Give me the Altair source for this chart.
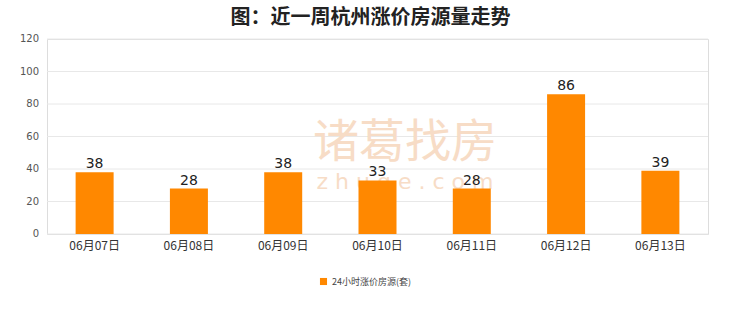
import altair as alt
import pandas as pd

dates = ["06月07日", "06月08日", "06月09日", "06月10日", "06月11日", "06月12日", "06月13日"]
values = [38, 28, 38, 33, 28, 86, 39]
series_name = "24小时涨价房源(套)"
y_ticks = [0, 20, 40, 60, 80, 100, 120]

df = pd.DataFrame({"date": dates, "value": values, "series": [series_name] * len(dates)})
ticks_df = pd.DataFrame({"tick": y_ticks})

x_scale = alt.Scale(paddingInner=0.59, paddingOuter=0.3)
y_scale = alt.Scale(domain=[0, 120], nice=False)

x_enc = alt.X("date:N", sort=dates, scale=x_scale,
              axis=alt.Axis(title=None, labelAngle=0, labelFontSize=12, labelColor="#333",
                            labelFont="Noto Sans CJK SC", labelPadding=6,
                            ticks=False, domain=False, grid=False))
y_enc = alt.Y("value:Q", scale=y_scale, axis=None)

base = alt.Chart(df)
tbase = alt.Chart(ticks_df)

grid = tbase.mark_rule(color="#e8e8e8", strokeWidth=1).encode(
    y=alt.Y("tick:Q", scale=y_scale, axis=None))
tick_labels = tbase.mark_text(align="right", baseline="middle", fontSize=10, color="#555",
                              font="DejaVu Sans").encode(
    x=alt.value(-8), y=alt.Y("tick:Q", scale=y_scale, axis=None), text="tick:Q")

wm1 = base.mark_text(text="诸葛找房", font="Noto Sans CJK SC", fontSize=46, color="#F7DCC6",
                     align="center", baseline="middle").encode(
    x=alt.value(358), y=alt.value(104)).transform_filter(alt.datum.date == dates[0])
wm2 = base.mark_text(text="z h u g e . c o m", font="DejaVu Sans", fontSize=22, color="#F7DCC6",
                     align="center", baseline="middle").encode(
    x=alt.value(358), y=alt.value(143)).transform_filter(alt.datum.date == dates[0])

bars = base.mark_bar(size=38).encode(
    x=x_enc, y=y_enc,
    color=alt.Color("series:N", scale=alt.Scale(range=["#FF8800"]),
                    legend=alt.Legend(title=None, orient="none", legendX=270, legendY=236,
                                      symbolType="square", symbolSize=50, labelFontSize=9,
                                      labelColor="#444", labelFont="Noto Sans CJK SC",
                                      padding=2))
)

labels = base.mark_text(baseline="bottom", dy=-1, fontSize=14, color="#222",
                        font="DejaVu Sans").encode(
    x=x_enc, y=y_enc, text="value:Q")

chart = alt.layer(grid, wm1, wm2, bars, labels, tick_labels).properties(
    width=661, height=195,
    title=alt.TitleParams("图：近一周杭州涨价房源量走势", fontSize=20, fontWeight="bold",
                          font="Noto Sans CJK SC", color="#222", anchor="middle", dx=-7, offset=6),
    autosize=alt.AutoSizeParams(type="none"),
    padding={"left": 47, "top": 39, "right": 32, "bottom": 78},
).configure_view(stroke="#dddddd", strokeWidth=1).configure(background="white")

chart.save("out.html", embed_options={"renderer": "svg", "actions": False})
